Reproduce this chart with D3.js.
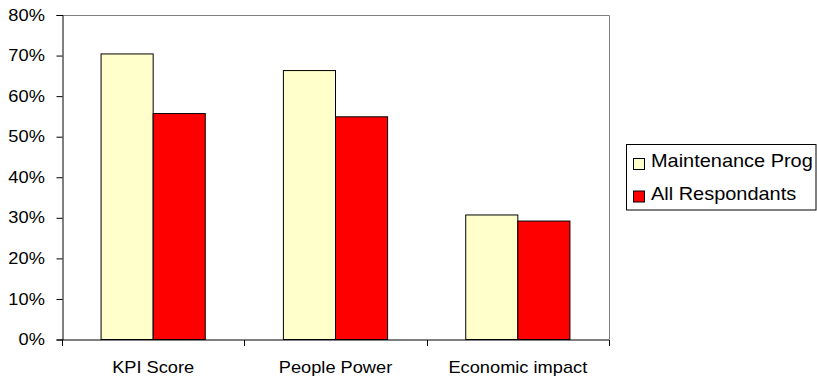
<!DOCTYPE html>
<html>
<head>
<meta charset="utf-8">
<script src="https://cdn.jsdelivr.net/npm/d3@7"></script>
<style>
  html, body { margin: 0; padding: 0; background: #fff; }
  svg { display: block; font-family: Arial, "Liberation Sans", sans-serif; }
</style>
</head>
<body>
<svg id="chart" width="817" height="379"></svg>
<script>
// Survey results by category
const categories = ["KPI Score", "People Power", "Economic impact"];
const seriesNames = ["Maintenance Prog", "All Respondants"];
const maintenanceProg = [0.704, 0.663, 0.307];
const allRespondants = [0.557, 0.549, 0.292];
const yTicks = [0, 0.1, 0.2, 0.3, 0.4, 0.5, 0.6, 0.7, 0.8];
const colors = ["#FFFFCC", "#FF0000"];

const svg = d3.select("#chart");
const plot = { left: 62, right: 609, top: 15, bottom: 339.5 };
const textStretch = 1.14; // wide, GDI-like lettering

const x = d3.scaleBand()
  .domain(categories)
  .range([plot.left, plot.right])
  .paddingInner(0)
  .paddingOuter(0);

// gap width of 150% of a bar: band = 2 bars + 1.5 bar
const barW = x.bandwidth() / 3.5;

const y = d3.scaleLinear()
  .domain([0, 0.8])
  .range([plot.bottom, plot.top]);

// plot area frame (top and right edges)
svg.append("path")
  .attr("d", `M${plot.left},${plot.top + 0.5}H${plot.right + 0.5}V${plot.bottom}`)
  .attr("fill", "none")
  .attr("stroke", "#808080")
  .attr("stroke-width", 1);

// bars
const series = [maintenanceProg, allRespondants];
series.forEach((vals, si) => {
  svg.append("g")
    .selectAll("rect")
    .data(categories.map((c, i) => ({ c, v: vals[i] })))
    .join("rect")
    .attr("x", d => x(d.c) + x.bandwidth() / 2 - barW + si * barW)
    .attr("y", d => y(d.v))
    .attr("width", barW)
    .attr("height", d => y(0) - y(d.v))
    .attr("fill", colors[si])
    .attr("stroke", "#000")
    .attr("stroke-width", 1);
});

// y axis
const yAxis = svg.append("g")
  .attr("transform", `translate(${plot.left + 0.5},0)`)
  .call(d3.axisLeft(y).tickValues(yTicks).tickFormat(d3.format(".0%")).tickSize(6).tickPadding(9.5));
yAxis.select(".domain").attr("stroke", "#000");
yAxis.selectAll(".tick line").attr("stroke", "#000");
yAxis.selectAll(".tick text")
  .attr("fill", "#000")
  .attr("transform", `scale(${textStretch},1)`)
  .style("font-size", "16px")
  .style("font-family", "Arial, 'Liberation Sans', sans-serif");

// x axis with ticks at category boundaries
const xAxisG = svg.append("g")
  .attr("transform", `translate(0,${plot.bottom + 0.5})`);
xAxisG.append("line")
  .attr("x1", plot.left).attr("x2", plot.right + 0.5)
  .attr("y1", 0).attr("y2", 0)
  .attr("stroke", "#000");
const boundaries = categories.map(c => x(c)).concat([x(categories[categories.length - 1]) + x.bandwidth()]);
xAxisG.selectAll("line.tick")
  .data(boundaries)
  .join("line")
  .attr("class", "tick")
  .attr("x1", d => Math.round(d) + 0.5).attr("x2", d => Math.round(d) + 0.5)
  .attr("y1", 0).attr("y2", 6)
  .attr("stroke", "#000");
xAxisG.selectAll("text")
  .data(categories)
  .join("text")
  .attr("transform", d => `translate(${x(d) + x.bandwidth() / 2},33) scale(${textStretch},1)`)
  .attr("text-anchor", "middle")
  .attr("fill", "#000")
  .style("font-size", "16px")
  .text(d => d);

// legend
const legend = svg.append("g");
legend.append("rect")
  .attr("x", 626.5).attr("y", 144.5)
  .attr("width", 189.5).attr("height", 65.5)
  .attr("fill", "#fff")
  .attr("stroke", "#000");
seriesNames.forEach((name, i) => {
  const ly = 158 + i * 32.5;
  legend.append("rect")
    .attr("x", 633.5).attr("y", ly + 0.5)
    .attr("width", 11).attr("height", 11)
    .attr("fill", colors[i])
    .attr("stroke", "#000");
  legend.append("text")
    .attr("transform", `translate(651,${ly + 9}) scale(${textStretch},1)`)
    .attr("fill", "#000")
    .style("font-size", "17.5px")
    .text(name);
});
</script>
</body>
</html>
